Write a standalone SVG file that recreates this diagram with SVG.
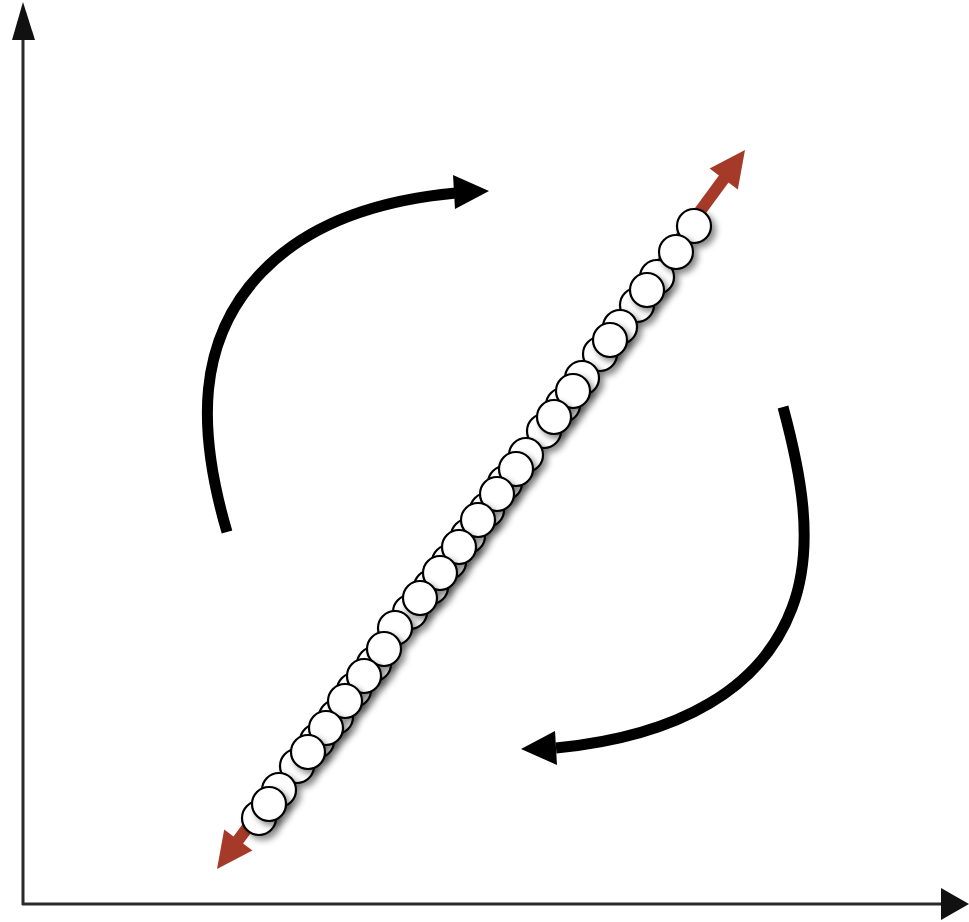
<svg xmlns="http://www.w3.org/2000/svg" width="969" height="922" viewBox="0 0 969 922">
<style>
.axis{stroke:#2a2a2a;stroke-width:3;fill:none}
.axhead{fill:#111}
.rot{stroke:#000;stroke-width:11;fill:none}
.rothead{fill:#000}
.dot{fill:#fff;stroke:#000;stroke-width:2.2;filter:url(#sh)}
.red{fill:#A63A29}
</style>
<defs>
<filter id="sh" x="-50%" y="-50%" width="200%" height="200%">
<feDropShadow dx="4" dy="4" stdDeviation="3" flood-color="#000" flood-opacity="0.45"/>
</filter>
</defs>
<g id="axes">
<line class="axis" x1="23" y1="905" x2="23" y2="36"/>
<line class="axis" x1="22" y1="904" x2="945" y2="904"/>
<polygon class="axhead" points="23,2 12,40 35,40"/>
<polygon class="axhead" points="969,904 941,888 941,920"/>
</g>
<g id="connectors">
<path class="rot" d="M227,532 C197,430 196,340 262,272 C310,222 380,200 456,193"/>
<polygon class="rothead" points="489,191 453,175 455,209"/>
<path class="rot" d="M783,407 C800,470 816,545 792,608 C762,688 680,736 556,748"/>
<polygon class="rothead" points="521,749 555,731 557,765"/>
</g>
<g id="red-arrow">
<polygon class="red" points="745,150 737.8,189.4 728.5,182.6 243.1,843.6 252.4,850.4 217,869 224.2,829.6 233.5,836.4 718.9,175.4 709.6,168.6"/>
</g>
<g id="points">
<g id="back">
<circle class="dot" cx="657" cy="277" r="17"/>
<circle class="dot" cx="637" cy="305" r="17"/>
<circle class="dot" cx="620" cy="327" r="17"/>
<circle class="dot" cx="600" cy="354" r="17"/>
<circle class="dot" cx="582" cy="378" r="17"/>
<circle class="dot" cx="563" cy="405" r="17"/>
<circle class="dot" cx="544" cy="431" r="17"/>
<circle class="dot" cx="526" cy="455" r="17"/>
<circle class="dot" cx="505" cy="483" r="17"/>
<circle class="dot" cx="487" cy="510" r="17"/>
<circle class="dot" cx="468" cy="536" r="17"/>
<circle class="dot" cx="449" cy="562" r="17"/>
<circle class="dot" cx="431" cy="587" r="17"/>
<circle class="dot" cx="410" cy="612" r="17"/>
<circle class="dot" cx="395" cy="628" r="17"/>
<circle class="dot" cx="374" cy="664" r="17"/>
<circle class="dot" cx="354" cy="690" r="17"/>
<circle class="dot" cx="336" cy="717" r="17"/>
<circle class="dot" cx="317" cy="741" r="17"/>
<circle class="dot" cx="297" cy="766" r="17"/>
<circle class="dot" cx="279" cy="790" r="17"/>
<circle class="dot" cx="259" cy="818" r="17"/>
</g>
<g id="front">
<circle class="dot" cx="694" cy="226" r="17"/>
<circle class="dot" cx="676" cy="252" r="17"/>
<circle class="dot" cx="647" cy="290" r="17"/>
<circle class="dot" cx="610" cy="340" r="17"/>
<circle class="dot" cx="573" cy="391" r="17"/>
<circle class="dot" cx="554" cy="417" r="17"/>
<circle class="dot" cx="516" cy="469" r="17"/>
<circle class="dot" cx="497" cy="494" r="17"/>
<circle class="dot" cx="478" cy="520" r="17"/>
<circle class="dot" cx="459" cy="547" r="17"/>
<circle class="dot" cx="440" cy="573" r="17"/>
<circle class="dot" cx="420" cy="598" r="17"/>
<circle class="dot" cx="384" cy="649" r="17"/>
<circle class="dot" cx="364" cy="676" r="17"/>
<circle class="dot" cx="345" cy="701" r="17"/>
<circle class="dot" cx="326" cy="728" r="17"/>
<circle class="dot" cx="308" cy="752" r="17"/>
<circle class="dot" cx="269" cy="804" r="17"/>
</g>
</g>
</svg>
